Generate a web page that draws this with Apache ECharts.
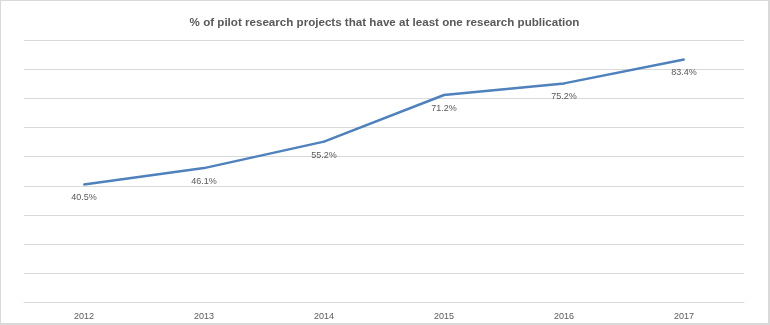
<!DOCTYPE html>
<html>
<head>
<meta charset="utf-8">
<script src="https://cdn.jsdelivr.net/npm/echarts@6/dist/echarts.min.js"></script>
<style>
html,body{margin:0;padding:0;background:#fff;}
#c{width:770px;height:325px;box-sizing:border-box;border:1px solid #d9d9d9;border-right-width:2px;border-bottom-width:2px;}
</style>
</head>
<body>
<div id="c"></div>
<script>
var titleText = '% of pilot research projects that have at least one research publication';
var categories = ['2012', '2013', '2014', '2015', '2016', '2017'];
var values = [40.5, 46.1, 55.2, 71.2, 75.2, 83.4];

var chart = echarts.init(document.getElementById('c'), null, {renderer: 'canvas'});
chart.setOption({
  animation: false,
  textStyle: {fontFamily: 'Liberation Sans, Arial, sans-serif'},
  title: {
    text: titleText,
    left: 'center',
    top: 11,
    textStyle: {fontSize: 11.6, fontWeight: 'bold', color: '#595959', fontFamily: 'Liberation Sans, Arial, sans-serif'}
  },
  grid: {left: 23, right: 24, top: 39.3, bottom: 20.7, containLabel: false},
  xAxis: {
    type: 'category',
    data: categories,
    boundaryGap: true,
    axisLine: {show: true, lineStyle: {color: '#d9d9d9', width: 1}},
    axisTick: {show: false},
    axisLabel: {color: '#595959', fontSize: 9, margin: 10}
  },
  yAxis: {
    type: 'value',
    min: 0,
    max: 90,
    interval: 10,
    axisLine: {show: false},
    axisTick: {show: false},
    axisLabel: {show: false},
    splitLine: {show: true, lineStyle: {color: '#d9d9d9', width: 1}}
  },
  series: [{
    type: 'line',
    data: values,
    symbol: 'circle',
    symbolSize: 2,
    showSymbol: true,
    showAllSymbol: true,
    itemStyle: {color: '#4f81bd', borderWidth: 0},
    lineStyle: {color: '#4f81bd', width: 2.5},
    label: {
      show: true,
      position: 'bottom',
      distance: 8,
      color: '#595959',
      fontSize: 9,
      formatter: function (p) { return p.value.toFixed(1) + '%'; }
    },
    labelLayout: {hideOverlap: false}
  }]
});
</script>
</body>
</html>
